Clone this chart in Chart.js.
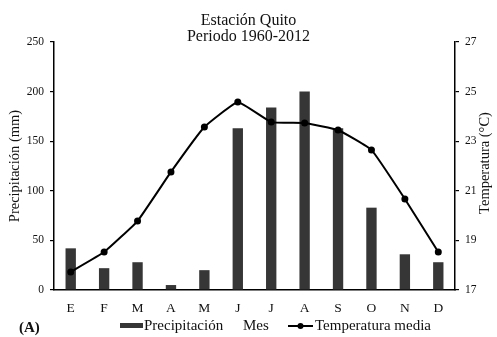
<!DOCTYPE html>
<html>
<head>
<meta charset="utf-8">
<script src="https://cdn.jsdelivr.net/npm/chart.js@4/dist/chart.umd.min.js"></script>
<style>
  html, body { margin: 0; padding: 0; background: #fff; }
  #wrap { width: 497px; height: 337px; position: relative; }
</style>
</head>
<body>
<div id="wrap"><canvas id="c" width="497" height="337"></canvas></div>
<script>
const months = ["E", "F", "M", "A", "M", "J", "J", "A", "S", "O", "N", "D"];
const precipitation = [42, 22, 28, 5, 20, 163, 184, 200, 163, 83, 36, 28];
const temperature = [17.73, 18.53, 19.78, 21.76, 23.57, 24.58, 23.77, 23.73, 23.45, 22.65, 20.67, 18.53];
const precipTicks = [0, 50, 100, 150, 200, 250];
const tempTicks = [17, 19, 21, 23, 25, 27];
const titleLines = ["Estación Quito", "Periodo 1960-2012"];
const leftTitle = "Precipitación (mm)";
const rightTitle = "Temperatura (°C)";
const xTitle = "Mes";
const panelLabel = "(A)";
const seriesNames = ["Precipitación", "Temperatura media"];

const FONT = "'Liberation Serif', 'Times New Roman', serif";
const INK = "#111";
const BAR = "#363636";

const extras = {
  id: "extras",
  afterDraw(chart) {
    const ctx = chart.ctx;
    ctx.save();
    ctx.fillStyle = INK;
    ctx.font = "14.5px " + FONT;
    ctx.textAlign = "center";
    ctx.textBaseline = "middle";
    ctx.save();
    ctx.translate(15, 166);
    ctx.rotate(-Math.PI / 2);
    ctx.fillText(leftTitle, 0, 0);
    ctx.restore();
    ctx.save();
    ctx.translate(485, 163);
    ctx.rotate(-Math.PI / 2);
    ctx.fillText(rightTitle, 0, 0);
    ctx.restore();
    ctx.font = "bold 15px " + FONT;
    ctx.textAlign = "left";
    ctx.fillText(panelLabel, 19, 328);
    ctx.font = "15px " + FONT;
    const y = 326;
    ctx.fillStyle = BAR;
    ctx.fillRect(120, 323, 23, 5);
    ctx.fillStyle = INK;
    ctx.fillText(seriesNames[0], 144, y);
    ctx.fillText(xTitle, 243, y);
    ctx.strokeStyle = "#000";
    ctx.lineWidth = 2;
    ctx.beginPath();
    ctx.moveTo(288, y);
    ctx.lineTo(313, y);
    ctx.stroke();
    ctx.beginPath();
    ctx.arc(300.5, y, 3, 0, Math.PI * 2);
    ctx.fillStyle = "#000";
    ctx.fill();
    ctx.fillStyle = INK;
    ctx.fillText(seriesNames[1], 315, y);
    ctx.restore();
  }
};

new Chart(document.getElementById("c"), {
  data: {
    labels: months,
    datasets: [
      {
        type: "line",
        label: seriesNames[1],
        data: temperature,
        yAxisID: "yT",
        borderColor: "#000",
        backgroundColor: "#000",
        borderWidth: 2,
        pointRadius: 3.5,
        pointBackgroundColor: "#000",
        pointBorderWidth: 0,
        tension: 0.1,
        order: 0
      },
      {
        type: "bar",
        label: seriesNames[0],
        data: precipitation,
        yAxisID: "yP",
        backgroundColor: BAR,
        borderWidth: 0,
        barPercentage: 0.31,
        categoryPercentage: 1,
        order: 1
      }
    ]
  },
  options: {
    responsive: false,
    animation: false,
    devicePixelRatio: 1,
    layout: { padding: 0 },
    plugins: {
      legend: { display: false },
      tooltip: { enabled: false },
      title: {
        display: true,
        text: titleLines,
        color: INK,
        font: { family: FONT, size: 16, weight: "normal", lineHeight: 1.0 },
        padding: { top: 13, bottom: -3 }
      }
    },
    scales: {
      x: {
        offset: true,
        grid: { display: false, drawTicks: false },
        border: { display: true, color: "#000", width: 1.5 },
        ticks: { color: INK, padding: 10, font: { family: FONT, size: 13.5 } },
        afterFit(s) { s.height = 47; }
      },
      yP: {
        position: "left",
        min: 0,
        max: 250,
        afterBuildTicks(s) { s.ticks = precipTicks.map(v => ({ value: v })); },
        grid: { display: true, drawOnChartArea: false, drawTicks: true, tickLength: 4, color: "#000", lineWidth: 1.2 },
        border: { display: true, color: "#000", width: 1.5 },
        ticks: { color: INK, padding: 6, font: { family: FONT, size: 11.5 } },
        afterFit(s) { s.width = 54; }
      },
      yT: {
        position: "right",
        min: 17,
        max: 27,
        afterBuildTicks(s) { s.ticks = tempTicks.map(v => ({ value: v })); },
        grid: { display: true, drawOnChartArea: false, drawTicks: true, tickLength: 4, color: "#000", lineWidth: 1.2 },
        border: { display: true, color: "#000", width: 1.5 },
        ticks: { color: INK, padding: 6, font: { family: FONT, size: 11.5 } },
        afterFit(s) { s.width = 42; }
      }
    }
  },
  plugins: [extras]
});
</script>
</body>
</html>
